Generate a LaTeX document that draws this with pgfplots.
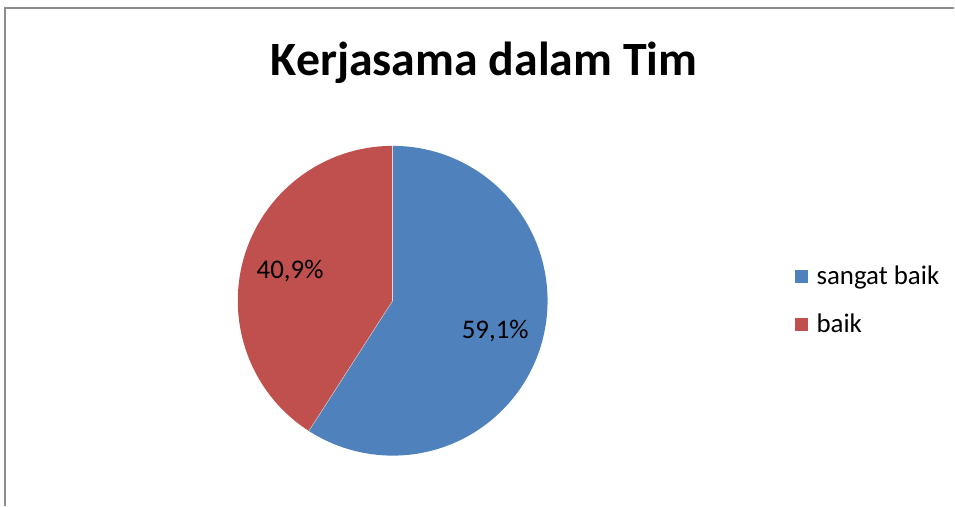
\documentclass[border=0pt]{standalone}
\usepackage{pgfplots}
\usepackage{pgfplotstable}
\pgfplotsset{compat=1.18}
\usepackage{fontspec}
\setmainfont{Carlito}

\definecolor{pieblue}{HTML}{4F81BD}
\definecolor{piered}{HTML}{C0504D}
\definecolor{framegray}{HTML}{8C8C8C}

% shares in percent
\pgfplotstableread{
value
59.1
40.9
}\piedata

\begin{document}
\begin{tikzpicture}
\pgfplotstablegetelem{0}{value}\of\piedata \let\va\pgfplotsretval
\pgfplotstablegetelem{1}{value}\of\piedata \let\vb\pgfplotsretval
\pgfmathsetmacro\angA{90-3.6*\va}      % end of blue slice (clockwise from 12 o'clock)
\pgfmathsetmacro\angB{\angA-3.6*\vb}   % end of red slice
\pgfmathsetmacro\midA{90-1.8*\va}
\pgfmathsetmacro\midB{\angA-1.8*\vb}
\begin{axis}[
    width=955bp, height=506bp,
    scale only axis,
    xmin=0, xmax=955,
    ymin=0, ymax=506,
    hide axis,
    clip=false,
]
% keep the whole canvas in the bounding box
\path (axis cs:0,0) rectangle (axis cs:955,506);

% outer frame (top and left edges visible)
\draw[framegray, line width=1.6bp] (axis cs:5,0) -- (axis cs:5,498) -- (axis cs:955,498);

% title
\node[anchor=base, font=\bfseries\fontsize{48}{57}\selectfont, inner sep=0]
    at (axis cs:484.5,430) {Kerjasama dalam Tim};

% slices
\fill[pieblue] (axis cs:393,205) -- ++(90:155bp)
    arc[start angle=90, end angle=\angA, radius=155bp] -- cycle;
\fill[piered] (axis cs:393,205) -- ++(\angA:155bp)
    arc[start angle=\angA, end angle=\angB, radius=155bp] -- cycle;
\draw[white!70!gray, line width=0.4bp] (axis cs:393,205) -- ++(90:155bp);
\draw[white!70!gray, line width=0.4bp] (axis cs:393,205) -- ++(\angA:155bp);

% data labels
\path (axis cs:393,205) ++(\midA:107bp) node[font=\fontsize{27}{31}\selectfont]
    {\pgfmathprintnumber[fixed, precision=1, use comma, assume math mode=true]{\va}\%};
\path (axis cs:393,205) ++(\midB:107bp) node[font=\fontsize{27}{31}\selectfont]
    {\pgfmathprintnumber[fixed, precision=1, use comma, assume math mode=true]{\vb}\%};

% legend
\fill[pieblue] (axis cs:796,223) rectangle (axis cs:809,236);
\node[anchor=base west, inner sep=0, font=\fontsize{27}{31}\selectfont]
    at (axis cs:817,221) {sangat baik};
\fill[piered] (axis cs:796,175) rectangle (axis cs:809,188);
\node[anchor=base west, inner sep=0, font=\fontsize{27}{31}\selectfont]
    at (axis cs:817,173) {baik};
\end{axis}
\end{tikzpicture}
\end{document}
